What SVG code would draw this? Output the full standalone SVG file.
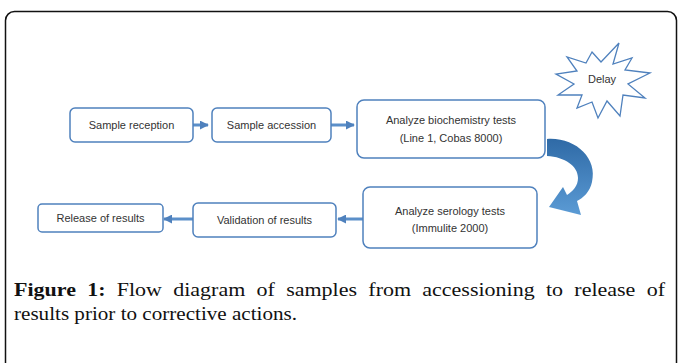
<svg xmlns="http://www.w3.org/2000/svg" width="678" height="363" viewBox="0 0 678 363">
<defs>
<style>
.box{fill:#fff;stroke:#4f81bd;stroke-width:1.5}
.lbl{font-family:"Liberation Sans",Arial,sans-serif;font-size:11px;fill:#333;text-anchor:middle}
.con{stroke:#5b8fc9;stroke-width:3;fill:none}
.cap{font-family:"Liberation Serif","Times New Roman",serif;font-size:19px;fill:#111}
</style>
<marker id="ah" viewBox="0 0 10 10" refX="9" refY="5" markerWidth="3" markerHeight="3" orient="auto">
<path d="M0,0 L10,5 L0,10 Z" fill="#4f81bd"/>
</marker>
<linearGradient id="cg" x1="0" y1="0" x2="0" y2="1">
<stop offset="0" stop-color="#2f6aa6"/>
<stop offset="1" stop-color="#5b9bd5"/>
</linearGradient>
</defs>
<rect x="5.5" y="11.5" width="671" height="400" rx="9" fill="#fff" stroke="#111" stroke-width="1.5"/>
<g id="connectors">
<line class="con" x1="193" y1="125" x2="208" y2="125" marker-end="url(#ah)"/>
<line class="con" x1="331" y1="125" x2="354" y2="125" marker-end="url(#ah)"/>
<line class="con" x1="363" y1="219" x2="338" y2="219" marker-end="url(#ah)"/>
<line class="con" x1="193" y1="219" x2="164" y2="219" marker-end="url(#ah)"/>
<path d="M547,139 C575,137 598,158 592,182 C590,192 583,198 577,201 L581,215 L549,207 L563,187 L567,195 C573,191 578,186 578,178 C578,166 565,157 547,156 Z" fill="url(#cg)"/>
</g>
<g id="delay">
<path d="M592,52 L601,62 L619,43 L613,64 L632,58 L625,70 L650,73 L628,84 L645,98 L623,95 L620,116 L607,101 L598,118 L592,102 L577,108 L582,95 L558,95 L574,84 L556,74 L577,71 L567,57 L586,63 Z" fill="#fff" stroke="#4f81bd" stroke-width="1.3" stroke-linejoin="miter"/>
<text class="lbl" x="602" y="83">Delay</text>
</g>
<g id="n1">
<rect class="box" x="70" y="108" width="123" height="34" rx="5"/>
<text class="lbl" x="131.5" y="129">Sample reception</text>
</g>
<g id="n2">
<rect class="box" x="212" y="108" width="119" height="34" rx="5"/>
<text class="lbl" x="271.5" y="129">Sample accession</text>
</g>
<g id="n3">
<rect class="box" x="357" y="100" width="188" height="58" rx="7"/>
<text class="lbl" x="451" y="124">Analyze biochemistry tests</text>
<text class="lbl" x="451" y="142">(Line 1, Cobas 8000)</text>
</g>
<g id="n4">
<rect class="box" x="363" y="187" width="174" height="61" rx="7"/>
<text class="lbl" x="450" y="215">Analyze serology tests</text>
<text class="lbl" x="450" y="232">(Immulite 2000)</text>
</g>
<g id="n5">
<rect class="box" x="193" y="203" width="143" height="34" rx="5"/>
<text class="lbl" x="264.5" y="224">Validation of results</text>
</g>
<g id="n6">
<rect class="box" x="38" y="204" width="125" height="28" rx="4"/>
<text class="lbl" x="100.5" y="222">Release of results</text>
</g>
<text class="cap" x="14" y="296" word-spacing="5" textLength="651" lengthAdjust="spacingAndGlyphs"><tspan font-weight="bold">Figure 1:</tspan> Flow diagram of samples from accessioning to release of</text>
<text class="cap" x="14" y="320" textLength="283" lengthAdjust="spacingAndGlyphs">results prior to corrective actions.</text>
</svg>
